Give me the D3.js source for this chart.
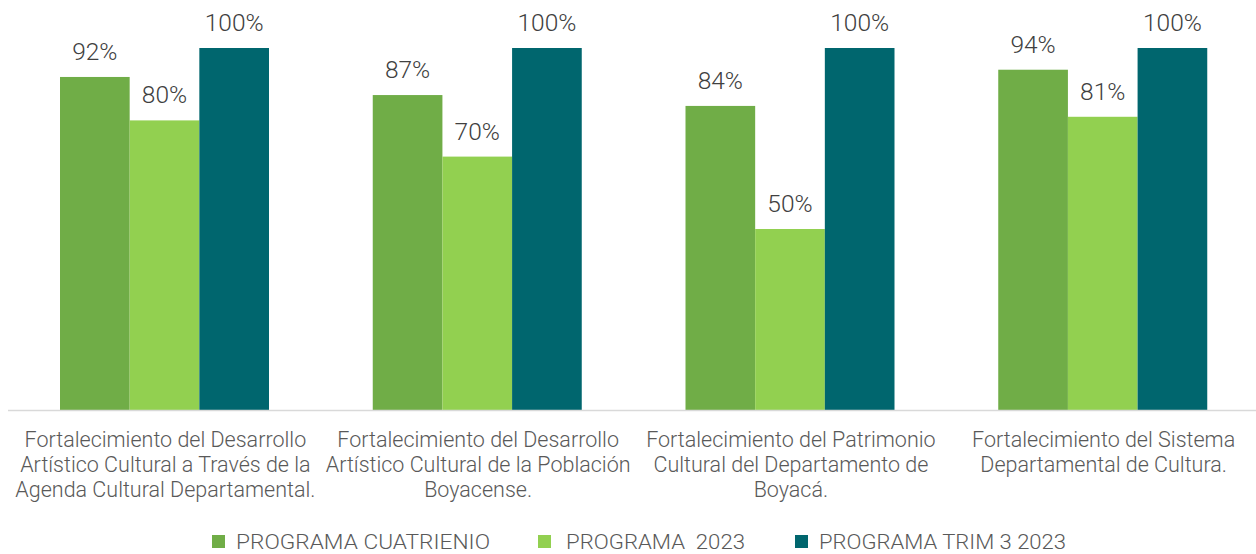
<!DOCTYPE html>
<html>
<head>
<meta charset="utf-8">
<script src="https://cdn.jsdelivr.net/npm/d3@7"></script>
<style>
  html, body { margin: 0; padding: 0; background: #fff; }
  svg { display: block; font-family: Roboto, "Noto Sans", sans-serif; }
</style>
</head>
<body>
<svg id="chart" width="1256" height="554"></svg>
<script>
const categories = [
  ["Fortalecimiento del Desarrollo", "Artístico Cultural a Través de la", "Agenda Cultural Departamental."],
  ["Fortalecimiento del Desarrollo", "Artístico Cultural de la Población", "Boyacense."],
  ["Fortalecimiento del Patrimonio", "Cultural del Departamento de", "Boyacá."],
  ["Fortalecimiento del Sistema", "Departamental de Cultura."]
];
const seriesNames = ["PROGRAMA CUATRIENIO", "PROGRAMA  2023", "PROGRAMA TRIM 3 2023"];
const cuatrienio = [92, 87, 84, 94];
const programa2023 = [80, 70, 50, 81];
const trim3 = [100, 100, 100, 100];
const seriesValues = [cuatrienio, programa2023, trim3];
const colors = ["#70AD47", "#92D050", "#00666E"];

const svg = d3.select("#chart");
const catIdx = categories.map((d, i) => i);

const x0 = d3.scaleBand().domain(catIdx).range([8, 1259]).padding(0);
const x1 = d3.scaleBand().domain([0, 1, 2]).range([52, 261]).padding(0);
const y = d3.scaleLinear().domain([0, 100]).range([410, 48]);

const groups = svg.selectAll("g.grp").data(catIdx).join("g")
  .attr("class", "grp")
  .attr("transform", i => `translate(${x0(i)},0)`);

groups.selectAll("rect").data(i => seriesValues.map((s, k) => ({k, v: s[i]}))).join("rect")
  .attr("x", d => x1(d.k))
  .attr("width", x1.bandwidth())
  .attr("y", d => y(d.v))
  .attr("height", d => y(0) - y(d.v))
  .attr("fill", d => colors[d.k]);

groups.selectAll("text.val").data(i => seriesValues.map((s, k) => ({k, v: s[i]}))).join("text")
  .attr("class", "val")
  .attr("x", d => x1(d.k) + x1.bandwidth() / 2)
  .attr("y", d => y(d.v) - 17)
  .attr("text-anchor", "middle")
  .attr("font-size", 24.5)
  .attr("font-weight", 300)
  .attr("fill", "#404040")
  .text(d => d.v + "%");

// baseline
svg.append("line")
  .attr("x1", 8).attr("x2", 1256)
  .attr("y1", y(0) + 0.5).attr("y2", y(0) + 0.5)
  .attr("stroke", "#d9d9d9").attr("stroke-width", 1.5);

// category labels
groups.append("text")
  .attr("class", "cat")
  .attr("text-anchor", "middle")
  .attr("font-size", 21.5)
  .attr("font-weight", 300)
  .attr("fill", "#595959")
  .selectAll("tspan").data(i => categories[i]).join("tspan")
  .attr("x", x0.bandwidth() / 2 + 1)
  .attr("y", (d, j) => 447 + j * 25)
  .text(d => d);

// legend
const legendItems = [
  {sx: 212, tx: 236, w: 254},
  {sx: 538, tx: 566, w: 179},
  {sx: 795, tx: 819, w: 247}
];
const lg = svg.append("g").attr("class", "legend");
seriesNames.forEach((name, k) => {
  const it = legendItems[k];
  lg.append("rect")
    .attr("x", it.sx).attr("y", 535)
    .attr("width", 13).attr("height", 13)
    .attr("fill", colors[k]);
  lg.append("text")
    .attr("x", it.tx).attr("y", 549)
    .attr("font-size", 20.5)
    .attr("font-weight", 300)
    .attr("fill", "#595959")
    .attr("textLength", it.w)
    .attr("lengthAdjust", "spacingAndGlyphs")
    .attr("xml:space", "preserve")
    .style("white-space", "pre")
    .text(name);
});
</script>
</body>
</html>
